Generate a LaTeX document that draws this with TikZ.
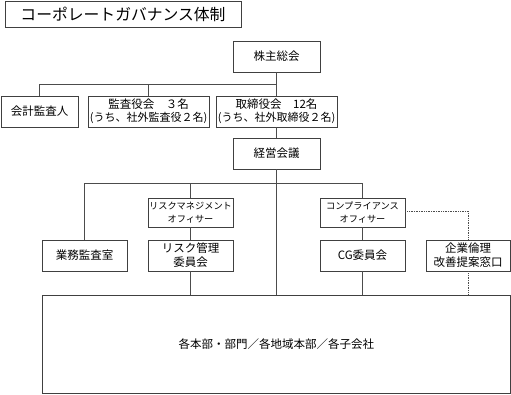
\documentclass[tikz,border=0pt]{standalone}
\usepackage{fontspec}
\setmainfont{Noto Sans CJK JP}
\begin{document}
\begin{tikzpicture}[x=1pt,y=-1pt,
  box/.style={draw=black!75,line width=0.8pt,fill=white,inner sep=0pt,align=center,
    font=\fontsize{11.5}{14}\selectfont},
  small/.style={font=\fontsize{9.2}{13}\selectfont},
  conn/.style={draw=black!70,line width=0.7pt},
  dconn/.style={draw=black!70,line width=0.7pt,densely dotted}]
\useasboundingbox (0,0) rectangle (511,394);
% nodes
\node[box,minimum width=236pt,minimum height=26pt,font=\fontsize{15.8}{18}\selectfont] (title) at (123,14) {コーポレートガバナンス体制};
\node[box,minimum width=87pt,minimum height=31pt] (kabu) at (276.5,56.5) {株主総会};
\node[box,minimum width=77pt,minimum height=31pt] (kaikei) at (39.5,111.5) {会計監査人};
\node[box,minimum width=121pt,minimum height=31pt] (kansa) at (148.5,111.5) {監査役会　３名\\[-1pt]{\fontsize{11}{13}\selectfont (うち、社外監査役２名)}};
\node[box,minimum width=121pt,minimum height=31pt] (tori) at (276.5,111.5) {取締役会　12名\\[-1pt]{\fontsize{11}{13}\selectfont (うち、社外取締役２名)}};
\node[box,minimum width=87pt,minimum height=31pt] (keiei) at (276.5,153.5) {経営会議};
\node[box,minimum width=85pt,minimum height=31pt] (gyomu) at (84.5,255.5) {業務監査室};
\node[box,small,minimum width=85pt,minimum height=29pt] (riskoff) at (190.5,212.5) {リスクマネジメント\\オフィサー};
\node[box,minimum width=85pt,minimum height=31pt] (riskcom) at (190.5,255.5) {リスク管理\\委員会};
\node[box,small,minimum width=85pt,minimum height=29pt] (compoff) at (362.5,212.5) {コンプライアンス\\オフィサー};
\node[box,minimum width=85pt,minimum height=31pt] (cg) at (362.5,255.5) {CG委員会};
\node[box,minimum width=84pt,minimum height=31pt] (rinri) at (468,255.5) {企業倫理\\改善提案窓口};
\node[box,minimum width=468.5pt,minimum height=98pt] (big) at (276.25,344) {各本部・部門／各地域本部／各子会社};
% junctions
\coordinate (j1) at (276.5,84);
\coordinate (j2) at (276.5,183);
% connectors
\draw[conn] (kabu.south) -- (tori.north);
\draw[conn] (kaikei.north) |- (j1);
\draw[conn] (kansa.north) -- (kansa.north |- j1);
\draw[conn] (tori.south) -- (keiei.north);
\draw[conn] (keiei.south) -- (big.north -| keiei.south);
\draw[conn] (gyomu.north) |- (compoff.north |- j2) -- (compoff.north);
\draw[conn] (riskoff.north) -- (riskoff.north |- j2);
\draw[conn] (riskoff.south) -- (riskcom.north);
\draw[conn] (riskcom.south) -- (big.north -| riskcom.south);
\draw[conn] (compoff.south) -- (cg.north);
\draw[conn] (cg.south) -- (big.north -| cg.south);
\draw[dconn] (compoff.east |- 0,211) -| (rinri.north);
\draw[dconn] (rinri.south) -- (big.north -| rinri.south);
\end{tikzpicture}
\end{document}
